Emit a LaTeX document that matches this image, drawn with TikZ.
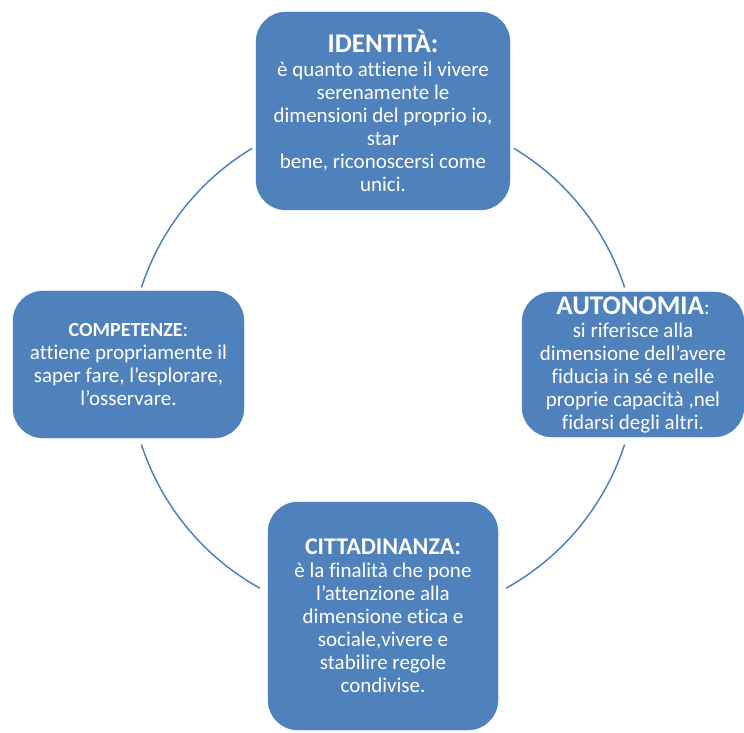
\documentclass[tikz,border=0pt]{standalone}
\usepackage{fontspec}
\setmainfont{Carlito}[Ligatures=NoCommon]
\definecolor{boxblue}{HTML}{4F81BD}
\tikzset{
  topic/.style = {shape=rectangle, rounded corners=30pt,
                  fill=boxblue, draw=boxblue, align=center,
                  text=white, inner sep=0pt,
                  font=\fontsize{21}{23}\selectfont},
  ring/.style  = {draw=boxblue, line width=1.5pt}
}
\newcommand{\bigtitle}[2]{{\fontsize{#1}{#1}\selectfont\bfseries #2}}
\begin{document}
\begin{tikzpicture}[x=1pt, y=1pt]
  \useasboundingbox (0,0) rectangle (744,732);
  \coordinate (c) at (383,366);
  % the ring
  \foreach \a/\b in {59/18, -18/-61, -119/-162, 162/121}
    \draw [ring] (c) ++(\a:254) arc [start angle=\a, end angle=\b, radius=254];
  \node [topic, minimum width=254pt, minimum height=198pt] (ident) at (383,621)
    {\bigtitle{27}{IDENTITÀ:}\\[1pt]
     è quanto attiene il vivere\\ serenamente le\\ dimensioni del proprio io,\\
     star\\ bene, riconoscersi come\\ unici.};
  \node [topic, minimum width=222pt, minimum height=145pt] (auto) at (633,367.5)
    {\bigtitle{27}{AUTONOMIA}:\\ si riferisce alla\\ dimensione dell’avere\\
     fiducia in sé e nelle\\ proprie capacità ,nel\\ fidarsi degli altri.};
  \node [topic, minimum width=231pt, minimum height=147pt] (comp) at (128.5,367.5)
    {{\fontsize{20}{23}\selectfont\bfseries COMPETENZE}:\\ attiene propriamente il\\
     saper fare, l’esplorare,\\ l’osservare.};
  \node [topic, minimum width=230pt, minimum height=228pt] (citt) at (383,116)
    {\bigtitle{24}{CITTADINANZA:}\\ è la finalità che pone\\ l’attenzione alla\\
     dimensione etica e\\ sociale,vivere e\\ stabilire regole\\ condivise.};
\end{tikzpicture}
\end{document}
